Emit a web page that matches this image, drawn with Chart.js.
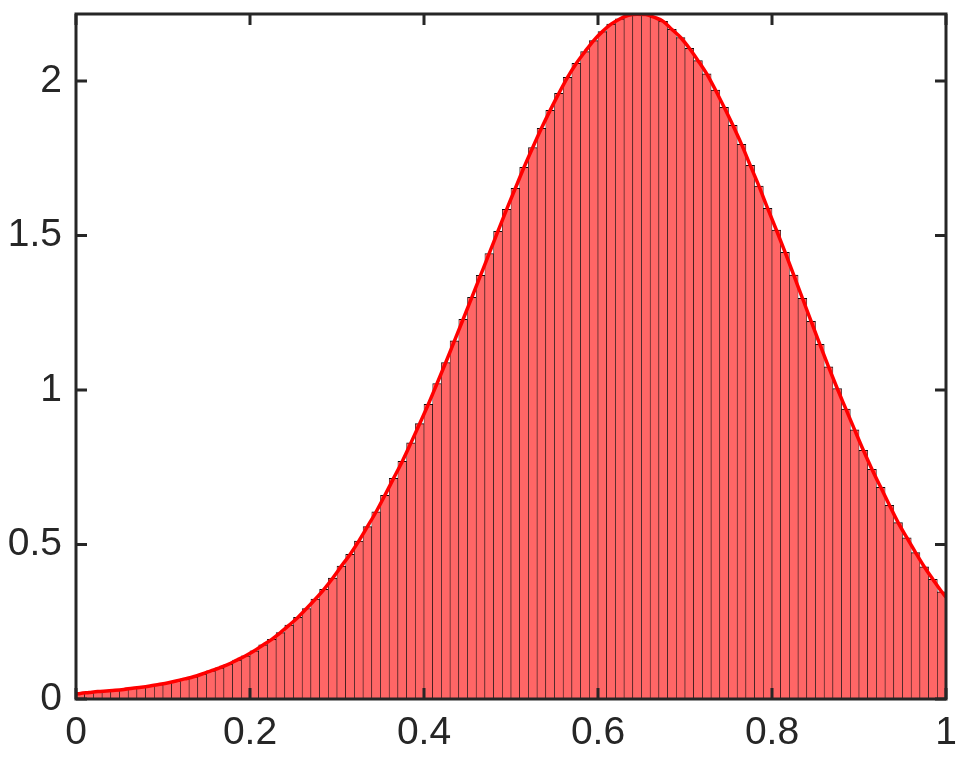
<!DOCTYPE html>
<html>
<head>
<meta charset="utf-8">
<script src="https://cdn.jsdelivr.net/npm/chart.js@4/dist/chart.umd.min.js"></script>
<style>
  html, body { margin: 0; padding: 0; background: #fff; }
  #wrap { width: 959px; height: 763px; }
</style>
</head>
<body>
<div id="wrap"><canvas id="histChart" width="959" height="763"></canvas></div>
<script>
// histogram heights, 100 bins on [0, 1]
const density = [
    0.018, 0.021, 0.024, 0.026, 0.028, 0.031, 0.035, 0.038, 0.042, 0.047,
    0.052, 0.058, 0.065, 0.072, 0.081, 0.091, 0.101, 0.112, 0.126, 0.140,
    0.156, 0.175, 0.193, 0.215, 0.239, 0.264, 0.293, 0.323, 0.355, 0.391,
    0.430, 0.468, 0.511, 0.558, 0.606, 0.659, 0.714, 0.769, 0.829, 0.891,
    0.954, 1.021, 1.089, 1.159, 1.229, 1.300, 1.371, 1.442, 1.514, 1.585,
    1.653, 1.721, 1.785, 1.847, 1.905, 1.960, 2.012, 2.057, 2.095, 2.131,
    2.160, 2.184, 2.201, 2.213, 2.216, 2.215, 2.206, 2.193, 2.167, 2.141,
    2.106, 2.066, 2.023, 1.971, 1.915, 1.857, 1.795, 1.727, 1.660, 1.588,
    1.518, 1.446, 1.372, 1.297, 1.222, 1.148, 1.075, 1.005, 0.938, 0.871,
    0.805, 0.743, 0.685, 0.627, 0.571, 0.522, 0.474, 0.428, 0.387, 0.347
];

// fitted curve value at both ends of the range
const curveStart = 0.016;
const curveEnd = 0.33;

const xTicks = [0, 0.2, 0.4, 0.6, 0.8, 1];
const xTickLabels = ['0', '0.2', '0.4', '0.6', '0.8', '1'];
const yTicks = [0, 0.5, 1, 1.5, 2];
const yTickLabels = ['0', '0.5', '1', '1.5', '2'];
const yMax = 2.217;

const binWidth = 1 / density.length;
const bars = density.map((v, i) => ({ x: (i + 0.5) * binWidth, y: v }));
const curve = [{ x: 0, y: curveStart }].concat(bars, [{ x: 1, y: curveEnd }]);

// matlab style box with ticks pointing inside
const boxPlugin = {
    id: 'box',
    afterDraw(chart) {
        const { ctx, chartArea: a, scales: { x, y } } = chart;
        const len = 11;
        ctx.save();
        ctx.strokeStyle = '#262626';
        ctx.lineWidth = 3;
        ctx.beginPath();
        xTicks.forEach(v => {
            const px = x.getPixelForValue(v);
            ctx.moveTo(px, a.bottom); ctx.lineTo(px, a.bottom - len);
            ctx.moveTo(px, a.top); ctx.lineTo(px, a.top + len);
        });
        yTicks.forEach(v => {
            const py = y.getPixelForValue(v);
            ctx.moveTo(a.left, py); ctx.lineTo(a.left + len, py);
            ctx.moveTo(a.right, py); ctx.lineTo(a.right - len, py);
        });
        ctx.stroke();
        ctx.strokeRect(a.left, a.top, a.right - a.left, a.bottom - a.top);
        ctx.restore();
    }
};

Chart.defaults.font.family = "'Liberation Sans', Arial, sans-serif";
Chart.defaults.font.size = 39;
Chart.defaults.color = '#262626';

new Chart(document.getElementById('histChart'), {
    type: 'bar',
    data: {
        datasets: [
            {
                type: 'line',
                data: curve,
                borderColor: '#ff0000',
                borderWidth: 3.5,
                pointRadius: 0,
                cubicInterpolationMode: 'monotone',
                fill: false,
                order: 0
            },
            {
                type: 'bar',
                data: bars,
                backgroundColor: 'rgb(255, 102, 102)',
                borderColor: 'rgba(0, 0, 0, 0.95)',
                borderWidth: { left: 0.6, right: 0.6, top: 1, bottom: 0 },
                borderSkipped: false,
                barPercentage: 1,
                categoryPercentage: 1,
                order: 1
            }
        ]
    },
    options: {
        responsive: false,
        animation: false,
        layout: { padding: { top: 14, right: 13, left: 0, bottom: 0 } },
        plugins: {
            legend: { display: false },
            tooltip: { enabled: false }
        },
        scales: {
            x: {
                type: 'linear',
                min: 0,
                max: 1,
                offset: false,
                grid: { display: false, drawTicks: false },
                border: { display: false },
                afterBuildTicks: s => { s.ticks = xTicks.map(v => ({ value: v })); },
                afterFit: s => { s.height = 64; s.paddingLeft = 0; s.paddingRight = 0; },
                ticks: {
                    padding: 11,
                    maxRotation: 0,
                    callback: (v, i) => xTickLabels[i]
                }
            },
            y: {
                min: 0,
                max: yMax,
                grid: { display: false, drawTicks: false },
                border: { display: false },
                afterBuildTicks: s => { s.ticks = yTicks.map(v => ({ value: v })); },
                afterFit: s => { s.width = 76; s.paddingTop = 0; s.paddingBottom = 0; },
                ticks: {
                    padding: 14,
                    callback: (v, i) => yTickLabels[i]
                }
            }
        }
    },
    plugins: [boxPlugin]
});
</script>
</body>
</html>
